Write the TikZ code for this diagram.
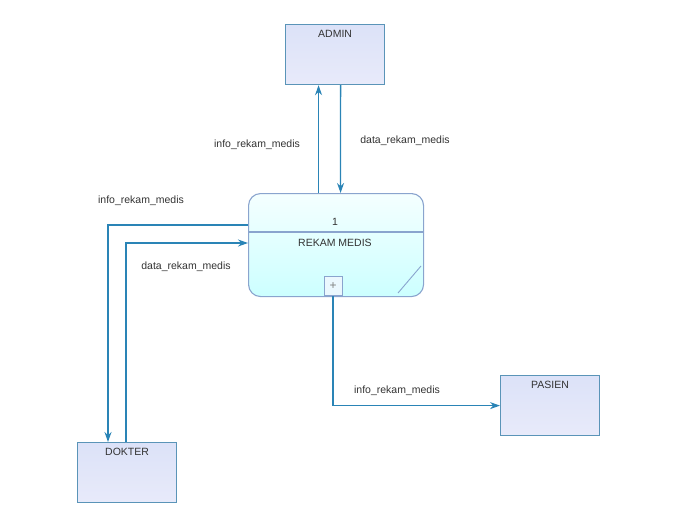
\documentclass[tikz,border=0pt]{standalone}
\usepackage{fontspec}
\setmainfont{Liberation Sans}
\usetikzlibrary{arrows.meta,calc}
\definecolor{flowline}{HTML}{2A84B6}
\definecolor{entityedge}{HTML}{5A94B8}
\definecolor{entitytop}{HTML}{DCE2F8}
\definecolor{entitybottom}{HTML}{E8EAFA}
\definecolor{procedge}{HTML}{8AA4CE}
\definecolor{labeltext}{HTML}{333333}
\tikzset{
  entity/.style={draw=entityedge,line width=1.2pt,top color=entitytop,bottom color=entitybottom,
    minimum width=99pt,minimum height=60pt,anchor=north west,inner sep=0pt},
  flow/.style={draw=flowline,line width=1.3pt,-{Stealth[length=10pt,width=7pt]}},
  flowlabel/.style={text=labeltext,font=\fontsize{10.5}{12}\selectfont,inner sep=0pt},
  entitylabel/.style={text=labeltext,font=\fontsize{10.5}{12}\selectfont}
}
\begin{document}
\begin{tikzpicture}[x=1pt,y=-1pt]
\useasboundingbox (0,0) rectangle (674,527);

% external entities
\node[entity,label={[entitylabel,anchor=north,yshift=-3pt]north:ADMIN}] (admin) at (285,24) {};
\node[entity,label={[entitylabel,anchor=north,yshift=-3pt]north:DOKTER}] (dokter) at (77,442) {};
\node[entity,label={[entitylabel,anchor=north,yshift=-3pt]north:PASIEN}] (pasien) at (500,375) {};

% process
\node[draw=procedge,line width=1.1pt,rounded corners=12pt,top color=cyan!4,bottom color=cyan!20,
  minimum width=175pt,minimum height=103pt,anchor=north west,inner sep=0pt] (proc) at (248,193) {};
\draw[procedge,line width=1.1pt] (proc.west |- 0,232) -- (proc.east |- 0,232);
\node[flowlabel] (procnum) at (335,222) {1};
\node[flowlabel] (procname) at (335,243) {REKAM MEDIS};
\node[draw=procedge,line width=0.9pt,fill=cyan!8,minimum width=18pt,minimum height=19pt,
  anchor=south,inner sep=0pt,text=gray,font=\fontsize{12}{12}\selectfont] (plus) at (333,296) {+};
\draw[procedge,line width=0.9pt] (421,266) -- (398,293);

% flows
\draw[flow] ([xshift=-17.5pt]proc.north) -- ([xshift=-17.5pt]proc.north |- admin.south);
\draw[flow] ([xshift=5.5pt]admin.south |- admin.south) -- ([xshift=4.5pt]proc.north);
\coordinate (infoleft) at (108,225);
\coordinate (dataleft) at (126,243);
\draw[flow] (proc.west |- infoleft) -- (infoleft) -- (infoleft |- dokter.north);
\draw[flow] (dataleft |- dokter.north) -- (dataleft) -- (proc.west |- dataleft);
\draw[flow] (plus.south) |- (pasien.west);

% flow labels
\node[flowlabel] (lbla) at (257,145) {info\_rekam\_medis};
\node[flowlabel] (lblb) at (405,141) {data\_rekam\_medis};
\node[flowlabel] (lblc) at (141,201) {info\_rekam\_medis};
\node[flowlabel] (lbld) at (186,267) {data\_rekam\_medis};
\node[flowlabel] (lble) at (397,391) {info\_rekam\_medis};

\end{tikzpicture}
\end{document}
